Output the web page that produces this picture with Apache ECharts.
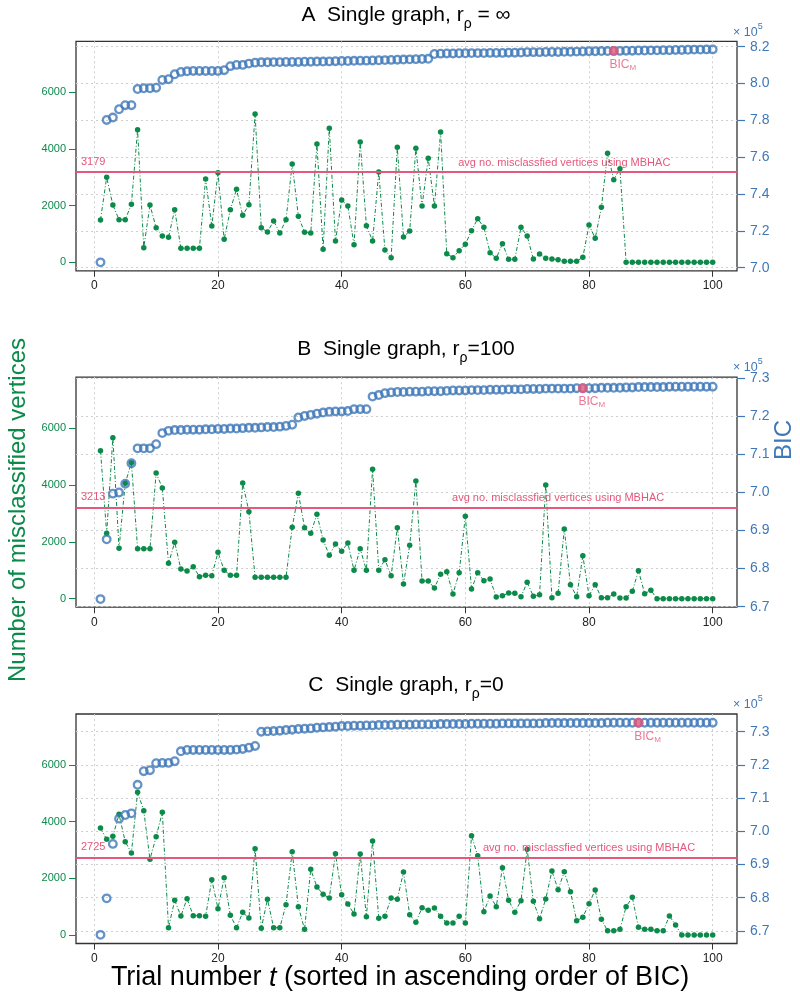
<!DOCTYPE html>
<html><head><meta charset="utf-8">
<script src="https://cdn.jsdelivr.net/npm/echarts@6/dist/echarts.min.js"></script>
<style>html,body{margin:0;padding:0;background:#fff}#c{width:800px;height:994px}</style>
</head><body><div id="c"></div><script>
// ---------------- data ----------------
const xTicks = [0, 20, 40, 60, 80, 100];
const leftTicks = [0, 2000, 4000, 6000];
const rightTicksA = [7.0, 7.2, 7.4, 7.6, 7.8, 8.0, 8.2];
const rightTicksB = [6.7, 6.8, 6.9, 7.0, 7.1, 7.2, 7.3];
const rightTicksC = [6.7, 6.8, 6.9, 7.0, 7.1, 7.2, 7.3];
const panelLetters = ['A', 'B', 'C'];
const rhoText = [' = \u221e', '=100', '=0'];
const avgMisclassified = [3179, 3213, 2725];
const bicMTrial = [84, 79, 88];

const misA = [1493,3000,2022,1503,1503,2047,4680,516,2022,1222,
 928,881,1857,500,500,500,500,2940,1281,3163,
 811,1857,2576,1658,2034,5234,1222,1070,1458,1034,
 1503,3469,1623,1058,1034,4175,458,4728,752,2199,
 1987,622,4246,1293,752,3187,434,164,4058,893,
 1105,4023,1987,3670,1987,4598,304,164,411,635,
 1117,1540,1234,341,141,658,105,105,1234,928,
 116,293,141,116,93,35,35,35,176,1316,
 846,1940,3846,2916,3304,0,0,0,0,0,
 0,0,0,0,0,0,0,0,0,0];
const bicA = [7.029,7.802,7.815,7.860,7.882,7.882,7.970,7.974,7.974,7.977,
 8.019,8.023,8.050,8.063,8.066,8.068,8.068,8.068,8.068,8.068,
 8.072,8.094,8.101,8.101,8.108,8.113,8.115,8.115,8.116,8.116,
 8.117,8.117,8.117,8.118,8.118,8.119,8.119,8.120,8.121,8.122,
 8.122,8.123,8.124,8.124,8.125,8.126,8.127,8.128,8.129,8.130,
 8.131,8.132,8.133,8.134,8.160,8.162,8.163,8.163,8.164,8.164,
 8.165,8.165,8.165,8.166,8.166,8.166,8.167,8.167,8.168,8.170,
 8.170,8.170,8.171,8.171,8.171,8.172,8.172,8.173,8.174,8.175,
 8.175,8.176,8.176,8.177,8.177,8.178,8.178,8.179,8.179,8.180,
 8.180,8.181,8.181,8.182,8.182,8.183,8.184,8.184,8.185,8.185];

const misB = [5211,2303,5669,1775,4063,4789,1760,1760,1760,4426,
 3898,1246,1986,1046,975,1127,775,824,810,1634,
 1000,824,824,4074,3063,753,753,753,753,753,
 753,2514,3711,2500,2303,2972,2067,1528,1926,1669,
 1961,1000,1760,1000,4556,1000,1373,810,2500,518,
 1880,4144,623,623,377,859,951,165,916,2901,
 342,916,634,694,60,106,200,188,70,577,
 83,141,4003,35,188,2454,493,70,1514,106,
 493,35,35,165,24,24,259,986,177,294,
 0,0,0,0,0,0,0,0,0,0];
const bicB = [6.720,6.877,6.997,7.000,7.023,7.077,7.116,7.116,7.116,7.127,
 7.156,7.162,7.164,7.164,7.165,7.165,7.165,7.166,7.166,7.167,
 7.167,7.168,7.168,7.169,7.170,7.170,7.171,7.172,7.172,7.173,
 7.175,7.178,7.197,7.201,7.204,7.207,7.210,7.212,7.213,7.213,
 7.214,7.219,7.219,7.219,7.252,7.256,7.261,7.263,7.264,7.264,
 7.265,7.265,7.265,7.266,7.266,7.266,7.267,7.268,7.268,7.268,
 7.269,7.269,7.269,7.270,7.270,7.270,7.271,7.271,7.271,7.272,
 7.272,7.272,7.273,7.273,7.273,7.273,7.273,7.274,7.274,7.274,
 7.274,7.275,7.275,7.275,7.275,7.276,7.276,7.277,7.277,7.277,
 7.277,7.277,7.278,7.278,7.278,7.278,7.278,7.278,7.278,7.278];

const misC = [3776,3377,3483,4259,3293,2894,5036,4387,2671,3470,
 4329,259,1223,671,1282,682,682,659,1953,929,
 2024,694,259,800,600,3046,235,1259,259,259,
 1070,2941,1000,200,2318,1694,1435,1306,2870,1423,
 1094,741,2859,647,3317,588,659,1306,1259,2223,
 718,447,965,871,953,659,423,423,659,423,
 3505,2800,824,1376,1000,2376,1223,800,1211,3030,
 1188,576,1270,2259,1600,2235,1529,506,623,1106,
 1588,553,150,150,200,1000,1329,270,200,200,
 150,150,671,353,0,0,0,0,0,0];
const bicC = [6.688,6.798,6.962,7.038,7.049,7.054,7.140,7.181,7.184,7.205,
 7.206,7.206,7.211,7.241,7.245,7.245,7.245,7.245,7.245,7.245,
 7.245,7.245,7.246,7.248,7.252,7.257,7.300,7.301,7.302,7.303,
 7.305,7.306,7.308,7.309,7.310,7.312,7.313,7.314,7.315,7.317,
 7.317,7.318,7.318,7.319,7.319,7.320,7.320,7.320,7.321,7.321,
 7.321,7.322,7.322,7.322,7.322,7.323,7.323,7.323,7.323,7.323,
 7.324,7.324,7.324,7.324,7.324,7.325,7.325,7.325,7.325,7.325,
 7.325,7.325,7.326,7.326,7.326,7.326,7.326,7.326,7.326,7.326,
 7.326,7.326,7.327,7.327,7.327,7.327,7.327,7.327,7.327,7.327,
 7.327,7.327,7.327,7.327,7.327,7.327,7.327,7.327,7.327,7.327];

// ---------------- styling / layout ----------------
const GREEN = '#0b8a4a', BLUE = '#3f78b8', RED = '#e5577b', GRIDC = '#cfcfcf';
const FONT = '"Liberation Sans", Arial, Helvetica, sans-serif';
const mis = [misA, misB, misC];
const bic = [bicA, bicB, bicC];
const rightTicks = [rightTicksA, rightTicksB, rightTicksC];
const panels = [
  {top: 41.3, height: 229.5, lMin: -300, lMax: 7800, rMin: 6.983, rMax: 8.229, titleY: 18, expY: 31, avgX: 76},
  {top: 377.2, height: 230, lMin: -300, lMax: 7800, rMin: 6.6987, rMax: 7.3029, titleY: 352, expY: 366, avgX: 75},
  {top: 714, height: 229.5, lMin: -300, lMax: 7800, rMin: 6.662, rMax: 7.3533, titleY: 688, expY: 703, avgX: 80}
];
const PLOT_LEFT = 76, PLOT_W = 661;

const grid = [], xAxis = [], yAxis = [], series = [], graphic = [];
panels.forEach((p, g) => {
  grid.push({left: PLOT_LEFT, width: PLOT_W, top: p.top, height: p.height, show: true,
    borderColor: '#333', borderWidth: 1.3, backgroundColor: 'rgba(0,0,0,0)'});
  xAxis.push({gridIndex: g, type: 'value', min: -2.96, max: 103.93,
    axisLine: {show: false, onZero: false},
    axisTick: {show: true, customValues: xTicks, length: 6, lineStyle: {color: '#333', width: 1}},
    axisLabel: {customValues: xTicks, color: '#222', fontSize: 12, margin: 9, fontFamily: FONT},
    splitLine: {show: true, lineStyle: {color: GRIDC, type: [2, 3], width: 1}}});
  yAxis.push({gridIndex: g, type: 'value', position: 'left', min: p.lMin, max: p.lMax,
    axisLine: {show: false, onZero: false},
    axisTick: {show: true, customValues: leftTicks, length: 7, lineStyle: {color: GREEN, width: 1}},
    axisLabel: {customValues: leftTicks, color: GREEN, fontSize: 11, margin: 10, fontFamily: FONT,
      formatter: v => String(v)},
    splitLine: {show: false}});
  yAxis.push({gridIndex: g, type: 'value', position: 'right', min: p.rMin, max: p.rMax,
    axisLine: {show: false, onZero: false},
    axisTick: {show: true, customValues: rightTicks[g], length: 8, lineStyle: {color: BLUE, width: 1.2}},
    axisLabel: {customValues: rightTicks[g], color: BLUE, fontSize: 14, margin: 13, fontFamily: FONT,
      formatter: v => v.toFixed(1)},
    splitLine: {show: true, lineStyle: {color: GRIDC, type: [2, 3], width: 1}}});

  const avg = avgMisclassified[g];
  series.push({type: 'line', xAxisIndex: g, yAxisIndex: 2 * g, z: 3,
    data: mis[g].map((v, i) => [i + 1, v]),
    symbol: 'circle', symbolSize: 5.5, showSymbol: true,
    itemStyle: {color: GREEN}, lineStyle: {color: GREEN, width: 1, type: [4, 2, 1, 2]},
    markLine: {silent: true, symbol: 'none', animation: false,
      lineStyle: {color: RED, width: 2.2, type: 'solid'},
      label: {show: true, position: 'insideStartTop', distance: 5, formatter: String(avg),
        color: RED, fontSize: 11, fontFamily: FONT},
      data: [{yAxis: avg}]},
    markPoint: {silent: true, symbol: 'circle', symbolSize: 0, animation: false,
      label: {show: true, position: 'top', distance: 4, formatter: 'avg no. misclassfied vertices using MBHAC',
        color: RED, fontSize: 11, fontFamily: FONT},
      data: [{coord: [p.avgX, avg]}]}
  });
  series.push({type: 'scatter', xAxisIndex: g, yAxisIndex: 2 * g + 1, z: 4,
    data: bic[g].map((v, i) => [i + 1, v]),
    symbol: 'circle', symbolSize: 7.6,
    itemStyle: {color: 'rgba(255,255,255,0)', borderColor: BLUE, borderWidth: 2.3}});
  const m = bicMTrial[g];
  series.push({type: 'scatter', xAxisIndex: g, yAxisIndex: 2 * g + 1, z: 5,
    data: [[m, bic[g][m - 1]]], symbol: 'circle', symbolSize: 10,
    itemStyle: {color: RED},
    label: {show: true, position: 'bottom', distance: 1, offset: [9, 0], formatter: '{b|BIC}{s|M}',
      rich: {b: {fontSize: 12, color: RED, fontFamily: FONT},
             s: {fontSize: 8, color: RED, fontFamily: FONT, padding: [7, 0, 0, 0]}}}});

  graphic.push({type: 'text', x: 406, y: p.titleY, silent: true,
    style: {text: '{m|' + panelLetters[g] + '  Single graph, r}{s|\u03c1}{m|' + rhoText[g] + '}',
      align: 'center', verticalAlign: 'middle',
      rich: {m: {fontSize: 21, fontFamily: FONT, fill: '#000', lineHeight: 26, verticalAlign: 'top'},
             s: {fontSize: 14, fontFamily: FONT, fill: '#000', lineHeight: 16, padding: [12, 0, 0, 0], verticalAlign: 'top'}}}});
  graphic.push({type: 'text', x: 733, y: p.expY, silent: true,
    style: {text: '{m|\u00d7 10}{s|5}', align: 'left', verticalAlign: 'middle',
      rich: {m: {fontSize: 12.5, fontFamily: FONT, fill: BLUE, lineHeight: 16, verticalAlign: 'bottom'},
             s: {fontSize: 9, fontFamily: FONT, fill: BLUE, lineHeight: 10, padding: [0, 0, 8, 0], verticalAlign: 'bottom'}}}});
});

graphic.push({type: 'text', x: 18, y: 510, rotation: Math.PI / 2, silent: true,
  style: {text: 'Number of misclassified vertices', fill: GREEN, fontSize: 24, fontFamily: FONT,
    align: 'center', verticalAlign: 'middle'}});
graphic.push({type: 'text', x: 784, y: 440, rotation: Math.PI / 2, silent: true,
  style: {text: 'BIC', fill: BLUE, fontSize: 24, fontFamily: FONT, align: 'center', verticalAlign: 'middle'}});
graphic.push({type: 'text', x: 400, y: 978, silent: true,
  style: {text: '{n|Trial number }{i|t}{n| (sorted in ascending order of BIC)}', align: 'center', verticalAlign: 'middle',
    rich: {n: {fontSize: 27, fontFamily: FONT, fill: '#000'},
           i: {fontSize: 27, fontFamily: FONT, fontStyle: 'italic', fill: '#000'}}}});

const chart = echarts.init(document.getElementById('c'), null, {renderer: 'canvas'});
chart.setOption({animation: false, backgroundColor: '#fff', grid, xAxis, yAxis, series, graphic});
</script></body></html>
